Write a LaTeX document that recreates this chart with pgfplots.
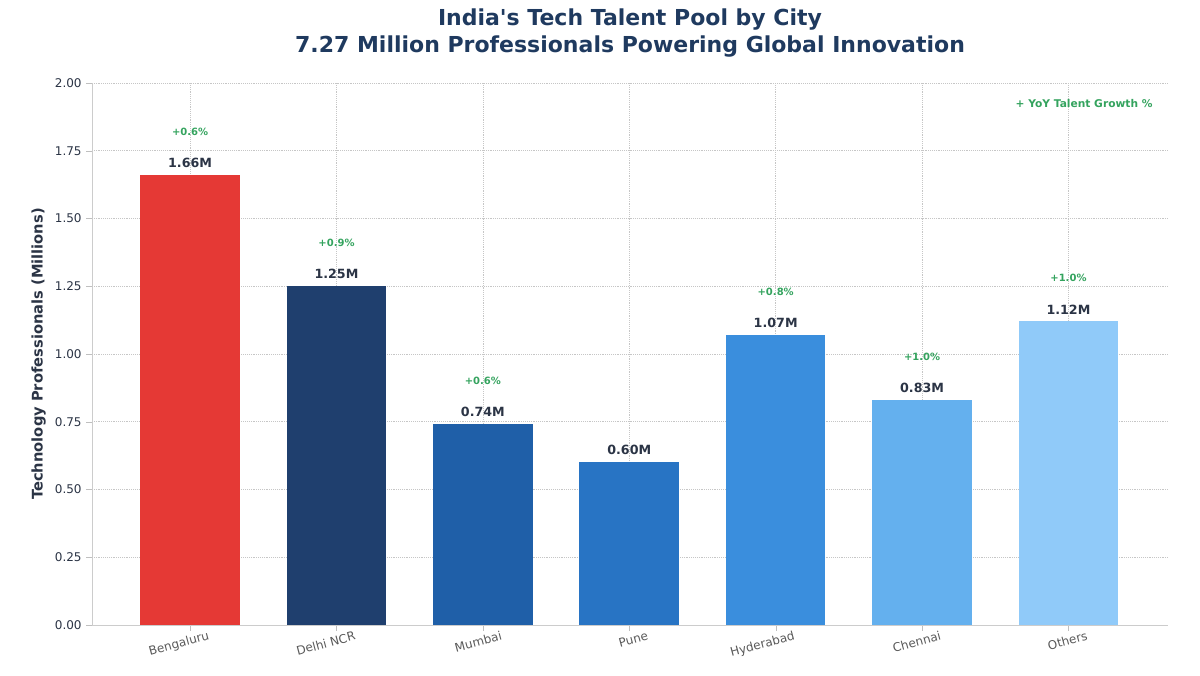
\documentclass[border=0pt]{standalone}
\usepackage{pgfplots}
\pgfplotsset{compat=1.18}
\usepackage{fontspec}
\setmainfont{DejaVu Sans}
\usetikzlibrary{calc}
\definecolor{c0}{HTML}{E53935}
\definecolor{c1}{HTML}{1F3F6E}
\definecolor{c2}{HTML}{1F5FA8}
\definecolor{c3}{HTML}{2874C4}
\definecolor{c4}{HTML}{3A8EDD}
\definecolor{c5}{HTML}{64B0EE}
\definecolor{c6}{HTML}{90CAF9}
\definecolor{tit}{HTML}{1F3A5F}
\definecolor{grn}{HTML}{34A35E}
\definecolor{lab}{HTML}{2B3445}
\begin{document}
\begin{tikzpicture}
\begin{axis}[
  scale only axis, width=807pt, height=406.5pt,
  xmin=-0.67, xmax=6.68, ymin=0, ymax=2,
  xtick={0,...,6},
  xticklabels={Bengaluru,Delhi NCR,Mumbai,Pune,Hyderabad,Chennai,Others},
  xticklabel style={rotate=15, anchor=north east, xshift=16pt, font=\fontsize{9}{10}\selectfont, text=gray!70!black},
  ytick={0,0.25,...,2},
  yticklabel style={font=\fontsize{9}{10}\selectfont, text=lab},
  /pgf/number format/assume math mode=true,
  /pgf/number format/.cd, fixed, fixed zerofill, precision=2, /pgfplots/.cd,
  ylabel={\bfseries Technology Professionals (Millions)},
  ylabel style={font=\fontsize{11}{12}\selectfont, text=lab},
  grid=major, grid style={densely dotted, gray!45},
  axis line style={gray!40},
  major tick style={gray!50}, tick align=outside,
  axis x line*=bottom, axis y line*=left,
  ybar, bar width=0.68, bar shift=0pt,
  nodes near coords style={font=\bfseries\fontsize{9.5}{10}\selectfont, text=lab, anchor=south, yshift=2pt},
  title style={align=center, font=\bfseries\fontsize{16.5}{20}\selectfont, text=tit, yshift=10pt},
  title={India\textquotesingle s Tech Talent Pool by City\\7.27 Million Professionals Powering Global Innovation},
]
\addplot[fill=c0, draw=none, nodes near coords={1.66M}] coordinates {(0,1.66)};
\addplot[fill=c1, draw=none, nodes near coords={1.25M}] coordinates {(1,1.25)};
\addplot[fill=c2, draw=none, nodes near coords={0.74M}] coordinates {(2,0.74)};
\addplot[fill=c3, draw=none, nodes near coords={0.60M}] coordinates {(3,0.60)};
\addplot[fill=c4, draw=none, nodes near coords={1.07M}] coordinates {(4,1.07)};
\addplot[fill=c5, draw=none, nodes near coords={0.83M}] coordinates {(5,0.83)};
\addplot[fill=c6, draw=none, nodes near coords={1.12M}] coordinates {(6,1.12)};
\addplot[sharp plot, draw=none, mark=none, point meta=explicit symbolic,
  nodes near coords, nodes near coords style={font=\bfseries\fontsize{7.5}{8}\selectfont, text=grn, anchor=south, yshift=24pt}]
  table[meta=g] {
x y g
0 1.66 +0.6\%
1 1.25 +0.9\%
2 0.74 +0.6\%
4 1.07 +0.8\%
5 0.83 +1.0\%
6 1.12 +1.0\%
};
\node[font=\bfseries\fontsize{8}{9}\selectfont, text=grn, anchor=east] at (rel axis cs:0.99,0.962) {+ YoY Talent Growth \%};
\end{axis}
\path[use as bounding box] ($(current axis.south west)+(-69pt,-37.5pt)$) rectangle ($(current axis.north east)+(24pt,62.25pt)$);
\end{tikzpicture}
\end{document}
